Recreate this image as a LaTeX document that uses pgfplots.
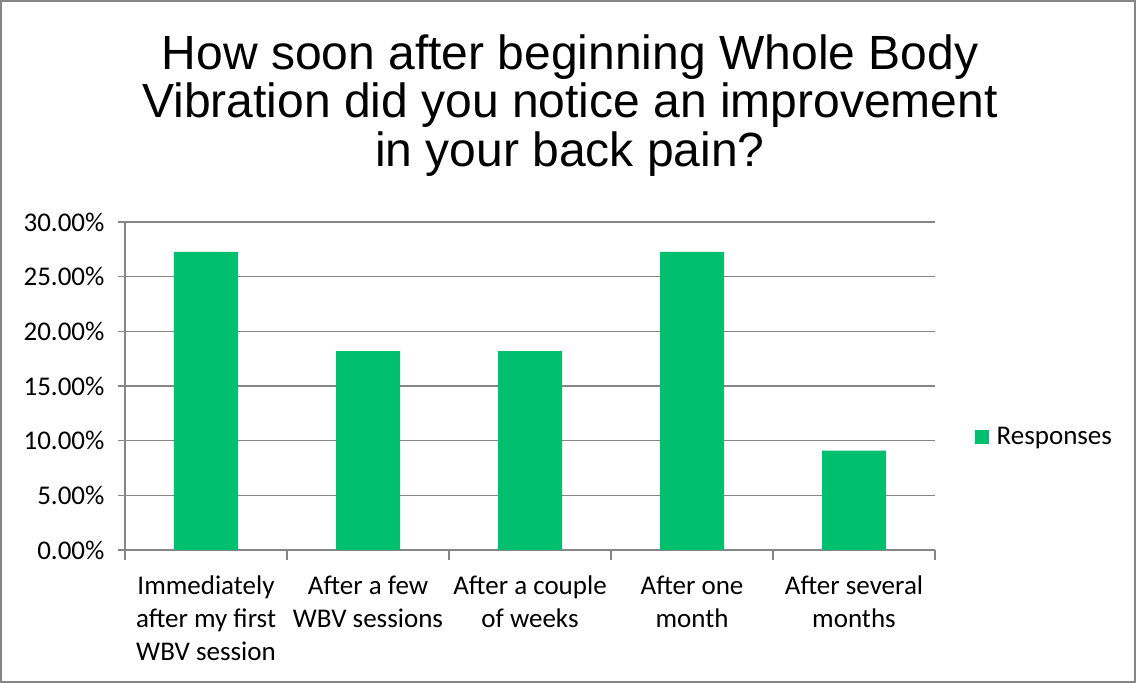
\documentclass[border=0pt]{standalone}
\usepackage{pgfplots}
\pgfplotsset{compat=1.18}
\usepackage{fontspec}
\setmainfont{Carlito}
\newfontfamily\titlefont{Liberation Sans}
\definecolor{bargreen}{RGB}{0,191,111}
\definecolor{axgray}{RGB}{134,134,134}
\begin{document}
\begin{tikzpicture}[x=1pt,y=1pt]
\useasboundingbox (0,0) rectangle (1136,683);
\draw[color=axgray, line width=2pt] (1,1) rectangle (1135,682);
\node[anchor=north, align=center, font=\titlefont\fontsize{48}{48.5}\selectfont] at (570,652) {How soon after beginning Whole Body\\Vibration did you notice an improvement\\in your back pain?};
\begin{axis}[
  at={(125pt,133pt)}, anchor=south west,
  scale only axis, width=810pt, height=328pt,
  xmin=-0.5, xmax=4.5, ymin=0, ymax=30,
  axis x line=bottom, axis y line=left,
  axis line style={color=axgray, line width=1.3pt, -},
  ybar, bar width=64pt,
  xtick={0,1,2,3,4},
  xticklabels={Immediately\\after my first\\WBV session, After a few\\WBV sessions, After a couple\\of weeks, After one\\month, After several\\months},
  x tick label style={align=center, font=\fontsize{27}{33}\selectfont, yshift=-15pt},
  xtick style={draw=none},
  extra x ticks={-0.5,0.5,1.5,2.5,3.5,4.5},
  extra x tick labels={},
  extra x tick style={xtick style={draw=axgray, line width=1.3pt}, major tick length=10pt, tick align=outside},
  ytick={0,5,10,15,20,25,30},
  yticklabel={\pgfmathprintnumber[fixed,fixed zerofill,precision=2]{\tick}\%},
  /pgf/number format/assume math mode=true,
  y tick label style={font=\fontsize{27}{30}\selectfont, xshift=-10pt},
  ytick style={draw=axgray, line width=1.3pt},
  major tick length=7pt, tick align=outside,
  ymajorgrids, grid style={color=axgray, line width=1.3pt},
  legend style={at={(1.045,0.345)}, anchor=west, draw=none, font=\fontsize{27}{30}\selectfont, legend cell align=left},
  legend image code/.code={\fill[bargreen] (0pt,-7pt) rectangle (14pt,7pt); \path (20pt,0pt);},
]
\addplot[fill=bargreen, draw=none, bar shift=0pt] coordinates {(0,27.27) (1,18.18) (2,18.18) (3,27.27) (4,9.09)};
\addlegendentry{Responses}
\end{axis}
\end{tikzpicture}
\end{document}
